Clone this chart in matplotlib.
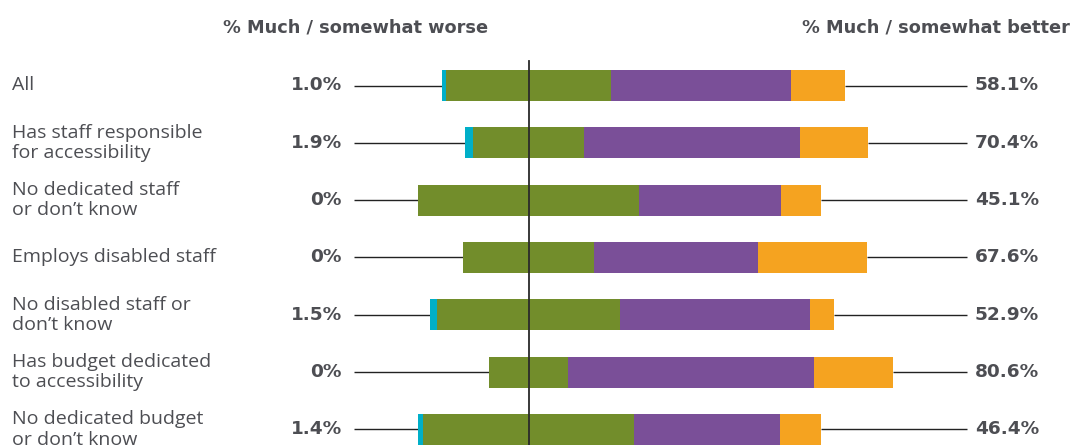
import matplotlib
matplotlib.use("Agg")
import matplotlib.pyplot as plt

categories = [
    "All",
    "Has staff responsible\nfor accessibility",
    "No dedicated staff\nor don\u2019t know",
    "Employs disabled staff",
    "No disabled staff or\ndon\u2019t know",
    "Has budget dedicated\nto accessibility",
    "No dedicated budget\nor don\u2019t know",
]
worse = [1.0, 1.9, 0.0, 0.0, 1.5, 0.0, 1.4]
better_total = [58.1, 70.4, 45.1, 67.6, 52.9, 80.6, 46.4]
somewhat_better = [44.7, 53.5, 35.2, 40.6, 47.0, 61.0, 36.2]
much_better = [13.4, 16.9, 9.9, 27.0, 5.9, 19.6, 10.2]
worse_labels = ["1.0%", "1.9%", "0%", "0%", "1.5%", "0%", "1.4%"]
better_labels = ["58.1%", "70.4%", "45.1%", "67.6%", "52.9%", "80.6%", "46.4%"]

C_WORSE = "#00AFC8"
C_SAME = "#728D2B"
C_SOMEWHAT = "#7A4F98"
C_MUCH = "#F5A320"
TXT = "#4D4E53"

W, H = 1071, 445
fig = plt.figure(figsize=(W / 100, H / 100), dpi=100)
ax = fig.add_axes([0, 0, 1, 1])
ax.set_axis_off()

# layout (pixels)
cx_px, px_per_pct = 528.5, 4.035
row0_px, row_step_px = 85.5, 57.33
ax.set_xlim(-cx_px / px_per_pct, (W - cx_px) / px_per_pct)
ax.set_ylim((H - row0_px) / row_step_px, -row0_px / row_step_px)

def fx(px):
    return px / W

def fy(py):
    return 1 - py / H

inv = ax.transData.inverted()
def px_to_x(px):
    return inv.transform(fig.transFigure.transform((px / W, 0)))[0]

line_l = px_to_x(354)
line_r = px_to_x(967)

bar_h = 0.54
for i in range(len(categories)):
    same = 100 - worse[i] - better_total[i]
    start = -(worse[i] + same / 2)
    segs = [(worse[i], C_WORSE), (same, C_SAME), (somewhat_better[i], C_SOMEWHAT), (much_better[i], C_MUCH)]
    left = start
    for w, c in segs:
        if w > 0:
            ax.barh(i, w, left=left, height=bar_h, color=c, linewidth=0, zorder=2)
        left += w
    end = left
    ax.plot([line_l, start], [i, i], color="#222222", lw=1.0, zorder=1, solid_capstyle="butt")
    ax.plot([end, line_r], [i, i], color="#222222", lw=1.0, zorder=1, solid_capstyle="butt")

# center line
y_top = inv.transform(fig.transFigure.transform((0, fy(61))))[1]
ax.plot([0, 0], [y_top, (H - row0_px) / row_step_px], color="#2a2a2a", lw=1.3, zorder=3)

LABEL_FONT = ["Open Sans", "DejaVu Sans"]
BOLD_FONT = ["DejaVu Sans"]
for i, lab in enumerate(categories):
    yy = row0_px + i * row_step_px
    fig.text(fx(12), fy(yy), lab, ha="left", va="center", fontsize=14.0, color=TXT,
             family=LABEL_FONT, linespacing=1.17)
    fig.text(fx(342), fy(yy), worse_labels[i], ha="right", va="center", fontsize=13.3,
             color=TXT, family=BOLD_FONT, fontweight="bold")
    fig.text(fx(975), fy(yy), better_labels[i], ha="left", va="center", fontsize=13.3,
             color=TXT, family=BOLD_FONT, fontweight="bold")

fig.text(fx(355.5), fy(27), "% Much / somewhat worse", ha="center", va="center",
         fontsize=12.8, color=TXT, family=BOLD_FONT, fontweight="bold")
fig.text(fx(1070), fy(27), "% Much / somewhat better", ha="right", va="center",
         fontsize=12.8, color=TXT, family=BOLD_FONT, fontweight="bold")

fig.savefig("out.png", dpi=100)
